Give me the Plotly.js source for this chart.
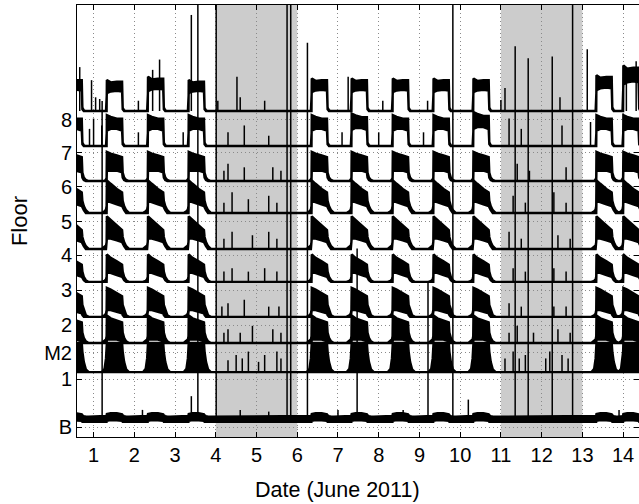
<!DOCTYPE html>
<html><head><meta charset="utf-8">
<script src="https://cdn.plot.ly/plotly-3.0.1.min.js"></script>
<style>body{margin:0;background:#fff}#chart{width:639px;height:504px}</style>
</head><body><div id="chart"></div>
<script>
// ---- axis labels ----
const floorLabels = ['B','1','M2','2','3','4','5','6','7','8'];
const floorTickPos = [0, 1.40, 2.16, 2.97, 3.99, 5.01, 5.98, 7.00, 7.99, 8.95];
const floorBase    = [0.20, 1.60, 2.45, 3.21, 4.23, 5.19, 6.24, 7.17, 8.19, 9.21];
const dayTicks = [1,2,3,4,5,6,7,8,9,10,11,12,13,14];
const weekends = [[4,6],[11,13]];

// ---- working days: time of morning rise (days, June 2011) ----
const riseTime = [0.33, 1.32, 2.33, 3.33, 6.35, 7.33, 8.34, 9.34, 10.32, 13.34, 14.00];
// offsets (days) relative to the rise at which the envelopes were read
const prof = [-0.12, -0.05, -0.015, 0, 0.006, 0.10, 0.25, 0.38, 0.395, 0.43, 0.48, 0.55];

// upper / lower envelope of a typical working day (floor units above baseline)
const upB  = [0.1, 0.11, 0.12, 0.14, 0.18, 0.2, 0.2, 0.17, 0.14, 0.12, 0.1, 0.1];
const loB  = [-0.05, -0.05, -0.05, -0.05, -0.02, 0, 0, -0.02, -0.05, -0.05, -0.05, -0.05];
const up1  = [0, 0.1, 0.4, 0.6, 0.85, 0.85, 0.85, 0.85, 0.6, 0.3, 0.08, 0];
const lo1  = [0, 0, 0, 0, 0, 0, 0, 0, 0, 0, 0, 0];
const upM2 = [0, 0.05, 0.1, 0.2, 0.8, 0.72, 0.65, 0.6, 0.3, 0.15, 0.05, 0];
const loM2 = [0, 0, 0, 0, 0.1, 0.1, 0.1, 0.05, 0, 0, 0, 0];
const up2  = [0, 0.05, 0.1, 0.2, 0.85, 0.8, 0.7, 0.6, 0.35, 0.2, 0.05, 0];
const lo2  = [0, 0, 0, 0, 0.2, 0.2, 0.15, 0.1, 0.05, 0, 0, 0];
const up3  = [0, 0.03, 0.08, 0.15, 0.8, 0.7, 0.6, 0.5, 0.3, 0.15, 0.05, 0];
const lo3  = [0, 0, 0, 0, 0.3, 0.25, 0.2, 0.15, 0.1, 0.05, 0, 0];
const up4  = [0, 0.05, 0.1, 0.2, 0.95, 0.85, 0.7, 0.55, 0.35, 0.2, 0.08, 0];
const lo4  = [0, 0, 0, 0, 0.3, 0.3, 0.25, 0.2, 0.15, 0.08, 0, 0];
const up5  = [0, 0.05, 0.1, 0.2, 0.95, 0.85, 0.7, 0.6, 0.35, 0.2, 0.08, 0];
const lo5  = [0, 0, 0, 0, 0.35, 0.3, 0.25, 0.2, 0.15, 0.08, 0, 0];
const up6  = [0, 0, 0.05, 0.1, 0.85, 0.8, 0.75, 0.7, 0.25, 0.1, 0.03, 0];
const lo6  = [0, 0, 0, 0, 0.3, 0.3, 0.3, 0.25, 0.1, 0.03, 0, 0];
const up7  = [0, 0, 0, 0, 0.9, 0.85, 0.8, 0.8, 0.1, 0.02, 0, 0];
const lo7  = [0, 0, 0, 0, 0.45, 0.5, 0.5, 0.45, 0.05, 0, 0, 0];
const up8  = [0, 0, 0, 0, 0.95, 0.88, 0.9, 0.9, 0.1, 0.02, 0, 0];
const lo8  = [0, 0, 0, 0, 0.55, 0.6, 0.62, 0.6, 0.05, 0, 0, 0];

// relative size of each working day (same order as riseTime)
const dayB  = [1,1,1,1,1,1,1,1,1,1,1];
const day1  = [1,1,1,1,1,1,1,1,1,1,1];
const dayM2 = [1,1,1,1,1,1,1,1,1,1,1];
const day2  = [1,1,1,1,1,1,1,1,1,1,1];
const day3  = [1,1,1,1,1,1,1,1,1,1,1];
const day4  = [1,1,1,1,1,1,1,1,1,1,1];
const day5  = [1,1,1,1,1,1,1,1,1,1,1];
const day6  = [1,1,1,1,1,1,1,1,1,1,1];
const day7  = [1,1,1,1,1,1.05,1,1,1.1,1,1];
const day8  = [1,0.95,1.05,0.95,1,1,1,1,1,1.1,1.4];

// isolated spikes: [time, height above baseline]
const spB  = [[1.21,9.3],[2.2,0.3],[3.40,0.7],[3.56,13],[4.01,13],[4.6,0.3],[5.3,0.25],[5.75,13],[5.84,13],[6.25,11],[7.0,0.3],[7.47,5],[8.6,0.3],[9.21,4],[9.82,13],[10.2,0.6],[11.35,10.9],[11.67,10.55],[12.26,10.6],[12.76,13],[13.9,0.3]];
const sp1  = [[4.3,0.35],[4.5,0.5],[4.65,0.4],[4.8,0.6],[5.05,0.3],[5.2,0.5],[5.5,0.6],[5.6,0.4],[11.1,0.4],[11.3,0.6],[11.45,0.4],[11.6,0.5],[12.1,0.4],[12.2,0.6],[12.5,0.5],[12.65,0.4]];
const spM2 = [[4.2,0.3],[4.3,0.4],[4.6,0.3],[4.9,0.5],[5.4,0.4],[5.6,0.3],[11.2,0.3],[11.4,0.5],[11.8,0.3],[12.4,0.4],[12.7,0.3]];
const sp2  = [[4.15,0.3],[4.3,0.4],[4.7,0.5],[5.3,0.3],[5.55,0.3],[11.2,0.4],[11.5,0.3],[12.3,0.3],[12.6,0.3]];
const sp3  = [[4.2,0.3],[4.4,0.4],[4.8,0.3],[5.2,0.4],[5.5,0.3],[11.3,0.4],[11.6,0.3],[12.3,0.4],[12.6,0.3]];
const sp4  = [[4.2,0.3],[4.4,0.5],[4.9,0.4],[5.3,0.5],[5.5,0.3],[11.2,0.5],[11.5,0.3],[12.4,0.4],[12.7,0.3]];
const sp5  = [[4.2,0.3],[4.4,0.6],[4.8,0.4],[5.3,0.5],[5.5,0.3],[11.3,0.5],[11.6,0.3],[12.3,0.6],[12.6,0.3]];
const sp6  = [[4.2,0.3],[4.3,0.5],[4.7,0.4],[5.4,0.4],[5.6,0.3],[11.4,0.5],[11.7,0.3],[12.6,0.4]];
const sp7  = [[0.9,0.5],[1.0,0.8],[1.2,0.6],[2.1,0.4],[3.2,0.4],[4.3,0.4],[4.7,0.6],[5.3,0.3],[7.1,0.4],[8.0,0.4],[9.1,0.4],[11.2,0.8],[11.5,0.5],[12.5,0.6],[13.2,0.7]];
const sp8  = [[0.66,1.28],[0.95,0.9],[1.05,0.4],[1.15,0.35],[2.1,0.3],[2.45,1.2],[2.62,1.5],[3.40,2.8],[4.05,0.3],[4.52,1.0],[4.6,0.4],[5.2,0.3],[7.25,1.0],[8.1,0.3],[9.2,0.3],[11.0,0.32],[11.1,0.67],[12.45,0.4],[13.12,1.8],[14.08,1.25],[14.32,1.45]];

const floors = [
  {up: upB, lo: loB, day: dayB, sp: spB},
  {up: up1, lo: lo1, day: day1, sp: sp1},
  {up: upM2, lo: loM2, day: dayM2, sp: spM2},
  {up: up2, lo: lo2, day: day2, sp: sp2},
  {up: up3, lo: lo3, day: day3, sp: sp3},
  {up: up4, lo: lo4, day: day4, sp: sp4},
  {up: up5, lo: lo5, day: day5, sp: sp5},
  {up: up6, lo: lo6, day: day6, sp: sp6},
  {up: up7, lo: lo7, day: day7, sp: sp7},
  {up: up8, lo: lo8, day: day8, sp: sp8}
];

const X0 = 0.55, X1 = 14.6;
const traces = [];
floors.forEach((f, k) => {
  const base = floorBase[k];
  const n = f.up.length - 1;
  const t = [X0], u = [base + f.up[0]], l = [base + f.lo[0]];
  riseTime.forEach((r, d) => {
    prof.forEach((o, i) => {
      t.push(r + o);
      u.push(base + f.up[i] * f.day[d]);
      l.push(base + f.lo[i] * f.day[d]);
    });
  });
  t.push(X1); u.push(base + f.up[n]); l.push(base + f.lo[n]);
  traces.push({
    x: t.concat(t.slice().reverse()),
    y: u.concat(l.slice().reverse()),
    mode: 'lines', fill: 'toself', fillcolor: '#000',
    line: {color: '#000', width: 2.4}, hoverinfo: 'skip', showlegend: false
  });
  const sx = [], sy = [];
  f.sp.forEach(([st, sh]) => { sx.push(st, st, null); sy.push(base, base + sh, null); });
  traces.push({x: sx, y: sy, mode: 'lines', line: {color: '#000', width: 1.5},
    hoverinfo: 'skip', showlegend: false});
});

const shapes = weekends.map(([a, b]) => ({
  type: 'rect', xref: 'x', yref: 'paper', x0: a, x1: b, y0: 0, y1: 1,
  fillcolor: '#cccccc', line: {width: 0}, layer: 'between'
}));

const font = {family: 'Liberation Sans, Arial, sans-serif', color: '#000'};
const layout = {
  width: 639, height: 504,
  margin: {l: 77, r: 0, t: 5, b: 67},
  paper_bgcolor: '#fff', plot_bgcolor: '#fff',
  showlegend: false,
  font: Object.assign({size: 20}, font),
  xaxis: {
    range: [0.593, 14.39], tickvals: dayTicks, ticktext: dayTicks.map(String),
    ticks: 'inside', ticklen: 5, tickcolor: '#000', mirror: 'ticks',
    showline: true, linecolor: '#000', linewidth: 1,
    showgrid: true, gridcolor: '#8a8a8a', griddash: '1px,3px', gridwidth: 1, zeroline: false,
    tickfont: Object.assign({size: 20}, font)
  },
  yaxis: {
    range: [-0.29, 12.3], tickvals: floorTickPos, ticktext: floorLabels,
    ticks: 'inside', ticklen: 5, tickcolor: '#000', mirror: 'ticks',
    showline: true, linecolor: '#000', linewidth: 1,
    showgrid: true, gridcolor: '#8a8a8a', griddash: '1px,3px', gridwidth: 1, zeroline: false,
    tickfont: Object.assign({size: 20}, font),
    title: {text: 'Floor', font: Object.assign({size: 22}, font), standoff: 10}
  },
  annotations: [{
    text: 'Date (June 2011)', xref: 'paper', yref: 'paper',
    x: 0.4635, y: -0.122, xanchor: 'center', yanchor: 'middle', showarrow: false,
    font: Object.assign({size: 21.5}, font)
  }],
  shapes: shapes
};
Plotly.newPlot('chart', traces, layout, {displayModeBar: false, staticPlot: true});
</script></body></html>
